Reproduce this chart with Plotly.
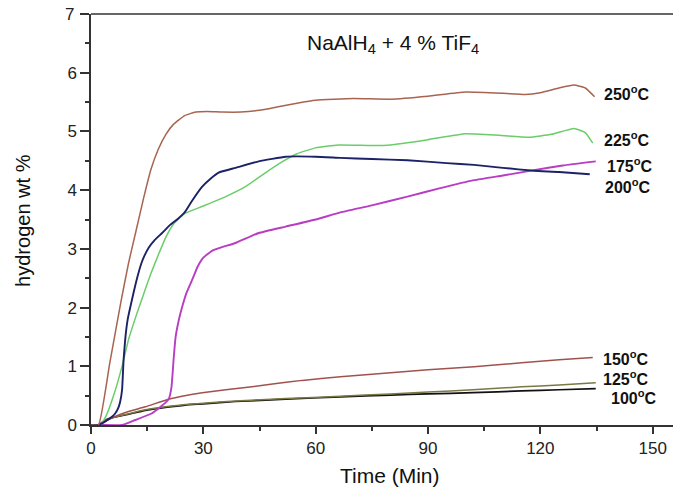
import plotly.graph_objects as go

# ---- data (time in min, hydrogen wt %) ----
t250 = [0, 2, 5, 8, 10, 12, 14, 16, 18, 20, 22, 25, 28, 31, 35, 40, 45, 50, 55, 60, 70, 80, 90, 100, 110, 116, 120, 125, 129, 132, 134.5]
h250 = [0, 0, 1.05, 2.1, 2.75, 3.3, 3.85, 4.35, 4.7, 4.95, 5.12, 5.27, 5.33, 5.34, 5.33, 5.33, 5.36, 5.42, 5.48, 5.53, 5.56, 5.55, 5.6, 5.67, 5.65, 5.63, 5.66, 5.74, 5.79, 5.74, 5.59]

t225 = [0, 2.5, 4, 5.5, 7, 8.5, 10, 12, 14, 16, 18, 20, 22, 25, 30, 36, 41, 46, 51, 55, 60, 66, 75, 80, 90, 100, 108, 117, 123, 129, 132, 134]
h225 = [0, 0, 0.15, 0.4, 0.7, 1.05, 1.45, 1.85, 2.22, 2.58, 2.9, 3.2, 3.42, 3.6, 3.73, 3.89, 4.05, 4.27, 4.48, 4.62, 4.72, 4.77, 4.76, 4.77, 4.86, 4.96, 4.94, 4.9, 4.95, 5.05, 4.98, 4.8]

t200 = [0, 2, 3.5, 5.6, 6.5, 7.4, 7.8, 8.3, 8.7, 9.2, 9.8, 11, 12.3, 13.6, 15.4, 17, 19, 21, 23, 25, 27, 29.7, 32, 34.1, 38.6, 44.8, 52, 60, 66.6, 75, 84.5, 95, 102.3, 110, 118.3, 125, 133.2]
h200 = [0, 0, 0.05, 0.14, 0.2, 0.31, 0.4, 0.6, 1.11, 1.5, 1.8, 2.15, 2.5, 2.78, 3.02, 3.15, 3.27, 3.4, 3.5, 3.62, 3.82, 4.06, 4.2, 4.3, 4.38, 4.49, 4.57, 4.57, 4.55, 4.53, 4.51, 4.46, 4.43, 4.38, 4.33, 4.31, 4.27]

t175 = [0, 2, 8.3, 11.8, 16.3, 19.9, 20.8, 21.5, 22.1, 22.6, 23.5, 24.3, 25.5, 27, 28.5, 30, 32.4, 35, 38.6, 44.8, 52, 60, 66.6, 75, 84.5, 93, 102.3, 110, 118.3, 126, 134.8]
h175 = [0, 0, 0, 0.085, 0.2, 0.38, 0.45, 0.65, 1.15, 1.5, 1.8, 2.0, 2.25, 2.47, 2.7, 2.85, 2.97, 3.03, 3.1, 3.27, 3.38, 3.5, 3.62, 3.74, 3.89, 4.03, 4.17, 4.25, 4.34, 4.42, 4.49]

t150 = [0, 2, 5, 7.4, 10, 14.5, 20.7, 25, 29.7, 36, 43, 50, 56.4, 66.6, 80, 90, 102.3, 115, 125, 134]
h150 = [0, 0, 0.1, 0.17, 0.23, 0.31, 0.44, 0.5, 0.55, 0.6, 0.65, 0.71, 0.76, 0.82, 0.89, 0.94, 0.99, 1.06, 1.11, 1.15]

t125 = [0, 2, 3.8, 6, 9.2, 14.5, 19.9, 25.2, 30, 38.6, 52, 66.6, 80, 90, 102, 115, 125, 134.8]
h125 = [0, 0, 0.085, 0.13, 0.18, 0.26, 0.31, 0.35, 0.37, 0.41, 0.45, 0.49, 0.53, 0.56, 0.6, 0.65, 0.68, 0.72]

t100 = [0, 2, 3.8, 6, 9.2, 14.5, 19.9, 25.2, 30, 38.6, 52, 66.6, 80, 90, 102, 115, 125, 134.8]
h100 = [0, 0, 0.085, 0.13, 0.17, 0.25, 0.3, 0.34, 0.36, 0.4, 0.44, 0.48, 0.51, 0.53, 0.55, 0.58, 0.6, 0.62]

series_labels = ["250", "225", "175", "200", "150", "125", "100"]
x_ticks = [0, 30, 60, 90, 120, 150]
y_ticks = [0, 1, 2, 3, 4, 5, 6, 7]

FONT = "Liberation Sans, Arial, sans-serif"

fig = go.Figure()

series = [
    (t100, h100, "#111111", 1.7),
    (t125, h125, "#7a7845", 1.5),
    (t150, h150, "#a0524d", 1.5),
    (t175, h175, "#b83cc4", 1.9),
    (t225, h225, "#6acd6a", 1.5),
    (t200, h200, "#1c2168", 1.9),
    (t250, h250, "#a86450", 1.5),
]
for tx, hy, col, w in series:
    fig.add_trace(go.Scatter(x=tx, y=hy, mode="lines",
                             line=dict(color=col, width=w, shape="spline", smoothing=0.4),
                             showlegend=False, hoverinfo="skip"))

# end labels
label_pos = {"250": (136.6, 5.66), "225": (136.6, 4.87), "175": (137.4, 4.43),
             "200": (136.7, 4.07), "150": (136.3, 1.14), "125": (136.3, 0.80),
             "100": (138.4, 0.47)}
for lab in series_labels:
    x, y = label_pos[lab]
    fig.add_annotation(x=x, y=y, xref="x", yref="y", xanchor="left", yanchor="middle",
                       text="<b>" + lab + "<sup>o</sup>C</b>", showarrow=False,
                       font=dict(family=FONT, size=16, color="#111111"))

fig.add_annotation(x=80.7, y=6.49, xref="x", yref="y", xanchor="center", yanchor="middle",
                   text="NaAlH<sub>4</sub> + 4 % TiF<sub>4</sub>", showarrow=False,
                   font=dict(family=FONT, size=21, color="#111111"))

# top tick label (partly cut by the top edge, as in the original)
top_tick = y_ticks[-1]
fig.add_annotation(x=-0.026, y=top_tick, xref="paper", yref="y", xanchor="right", yanchor="middle",
                   text=str(top_tick), showarrow=False,
                   font=dict(family=FONT, size=17, color="#222222"))

# axis titles
fig.add_annotation(x=-0.1155, y=0.499, xref="paper", yref="paper", xanchor="center", yanchor="middle",
                   text="hydrogen wt %", textangle=-90, showarrow=False,
                   font=dict(family=FONT, size=20, color="#111111"))
fig.add_annotation(x=0.508, y=-0.124, xref="paper", yref="paper", xanchor="center", yanchor="middle",
                   text="Time (Min)", showarrow=False,
                   font=dict(family=FONT, size=21, color="#111111"))

# top frame line
fig.add_shape(type="line", xref="paper", yref="paper", x0=0, x1=1, y0=1, y1=1,
              line=dict(color="#333333", width=1.5))

# the page body adds an 8px offset, so the figure is sized to compensate
fig.update_layout(
    width=673, height=483,
    margin=dict(l=83, r=1, t=6, b=66),
    paper_bgcolor="white", plot_bgcolor="white",
    font=dict(family=FONT, color="#111111"),
    xaxis=dict(range=[0, 157.3], tickvals=x_ticks, ticktext=[str(v) for v in x_ticks],
               automargin=False,
               ticks="outside", ticklen=7, tickwidth=1.5, tickcolor="#333333",
               minor=dict(dtick=15, tick0=0, ticks="outside", ticklen=4, tickwidth=1.5, tickcolor="#333333"),
               showline=True, linecolor="#333333", linewidth=1.5, showgrid=False, zeroline=False,
               tickfont=dict(size=17, color="#222222")),
    yaxis=dict(range=[0, 7], tickvals=y_ticks,
               ticktext=[str(v) if v != top_tick else "" for v in y_ticks],
               automargin=False,
               ticks="outside", ticklen=9, tickwidth=1.5, tickcolor="#333333",
               minor=dict(dtick=0.5, tick0=0, ticks="outside", ticklen=4, tickwidth=1.5, tickcolor="#333333"),
               showline=True, linecolor="#333333", linewidth=1.5, showgrid=False, zeroline=False,
               tickfont=dict(size=17, color="#222222")),
)

fig.write_html("out.html")
